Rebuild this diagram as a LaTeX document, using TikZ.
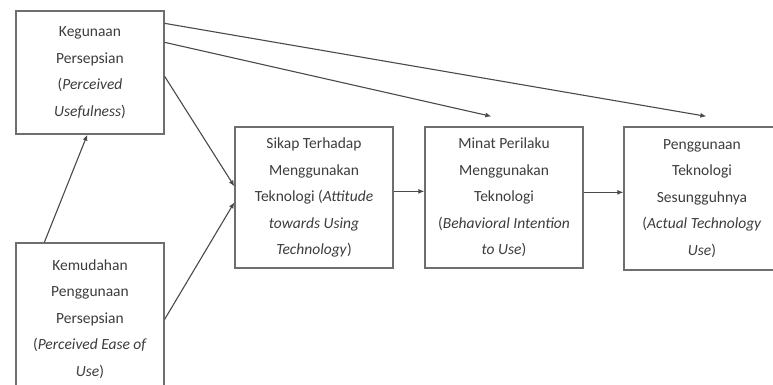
\documentclass[tikz,border=0pt]{standalone}
\usepackage{fontspec}
\setmainfont{Carlito}
\usetikzlibrary{arrows.meta,calc}

\definecolor{boxline}{HTML}{6E6E6E}
\definecolor{wire}{HTML}{4A4A4A}
\definecolor{ink}{HTML}{3C3C3C}

\tikzset{
  varbox/.style={draw=boxline, line width=1.3pt, rectangle, inner sep=0pt,
    align=center, text=ink,
    font=\fontsize{15.5}{26.5}\selectfont},
  link/.style={draw=wire, line width=1.1pt,
    -{Latex[length=6pt,width=5pt]}},
}

\begin{document}
\begin{tikzpicture}[x=1pt,y=-1pt]
  \useasboundingbox (0,0) rectangle (773,385);

  % variable boxes
  \node[varbox, minimum width=148pt, minimum height=123pt] (pu) at (90,72.5)
    {Kegunaan\\Persepsian\\(\textit{Perceived}\\\textit{Usefulness})};
  \node[varbox, minimum width=148pt, minimum height=152pt] (peou) at (90,319)
    {Kemudahan\\Penggunaan\\Persepsian\\(\textit{Perceived Ease of}\\\textit{Use})};
  \node[varbox, minimum width=158pt, minimum height=141pt] (atu) at (314,197.5)
    {Sikap Terhadap\\Menggunakan\\Teknologi (\textit{Attitude}\\\textit{towards Using}\\\textit{Technology})};
  \node[varbox, minimum width=158pt, minimum height=141pt] (bi) at (504,197.5)
    {Minat Perilaku\\Menggunakan\\Teknologi\\(\textit{Behavioral Intention}\\\textit{to Use})};
  \node[varbox, minimum width=156pt, minimum height=143pt] (atuse) at (702,198.5)
    {Penggunaan\\Teknologi\\Sesungguhnya\\(\textit{Actual Technology}\\\textit{Use})};

  % free ends of the two long links, just above the target boxes
  \coordinate (biIn) at ($(bi.north west)+(67,-10)$);
  \coordinate (atuseIn) at ($(atuse.north west)+(83,-10)$);

  % connectors
  \draw[link] ($(pu.north east)+(0,13)$) -- (atuseIn);
  \draw[link] ($(pu.north east)+(0,32)$) -- (biIn);
  \draw[link] ($(pu.north east)+(0,66)$) -- ($(atu.north west)+(0,60)$);
  \draw[link] ($(peou.north east)+(0,77)$) -- ($(atu.north west)+(0,76)$);
  \draw[link] ($(peou.north west)+(29,0)$) -- ($(pu.south west)+(72,0)$);
  \draw[link] ($(atu.north east)+(0,65)$) -- ($(bi.north west)+(0,65)$);
  \draw[link] ($(bi.north east)+(0,66)$) -- ($(atuse.north west)+(0,66)$);
\end{tikzpicture}
\end{document}
